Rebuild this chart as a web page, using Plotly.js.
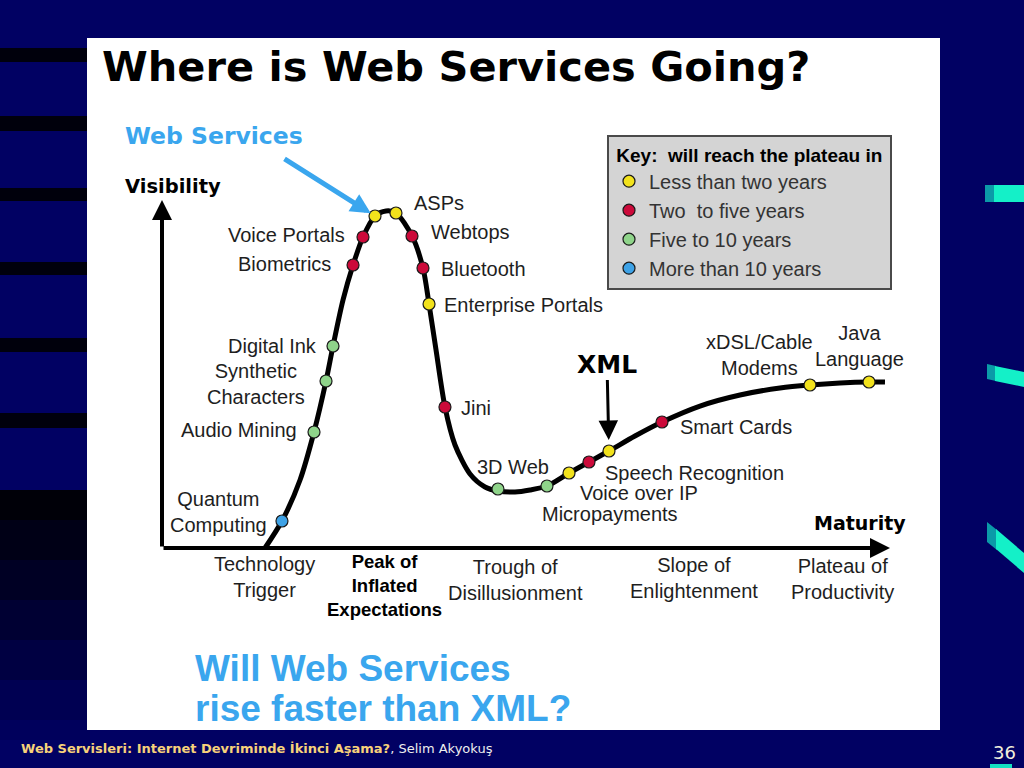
<!DOCTYPE html>
<html>
<head>
<meta charset="utf-8">
<script src="https://cdn.plot.ly/plotly-3.0.1.min.js"></script>
<style>
  html, body { margin: 0; padding: 0; background: #010163; }
  #chart { width: 1024px; height: 768px; }
</style>
</head>
<body>
<div id="chart"></div>
<script>
// ---------------- DATA ----------------
const categories = ['Less than two years', 'Two  to five years', 'Five to 10 years', 'More than 10 years'];
const categoryColors = ['#f2e21c', '#cc0a3a', '#8fd48a', '#3ea2e6'];

const techNames = ['Quantum<br>Computing', 'Audio Mining', 'Synthetic<br>Characters', 'Digital Ink', 'Biometrics',
  'Voice Portals', 'Web Services', 'ASPs', 'Webtops', 'Bluetooth', 'Enterprise Portals', 'Jini', '3D Web',
  'Micropayments', 'Voice over IP', 'Speech Recognition', 'XML', 'Smart Cards', 'xDSL/Cable<br>Modems', 'Java<br>Language'];
const techMaturity = [16.48, 20.88, 22.53, 23.49, 26.24, 27.61, 29.26, 32.14, 34.34, 35.85, 36.68, 38.87, 46.15,
  52.88, 55.91, 58.65, 61.40, 68.68, 89.01, 97.12];
const techVisibility = [7.76, 33.33, 47.99, 58.05, 81.32, 89.37, 95.40, 96.26, 89.66, 80.46, 70.11, 40.52, 16.95,
  17.82, 21.55, 24.71, 27.87, 36.21, 46.84, 47.70];
const techCategory = [3, 2, 2, 2, 1, 1, 0, 0, 1, 1, 0, 1, 2, 2, 0, 1, 0, 1, 0, 0];

const curveMaturity = [14.15, 16.48, 18.96, 20.88, 22.53, 23.49, 24.86, 26.24, 27.61, 29.26, 30.77, 32.14, 34.34,
  35.85, 36.68, 37.64, 38.87, 40.25, 42.31, 44.37, 46.15, 48.49, 50.55, 52.88, 55.91, 58.65, 61.40, 64.97, 68.68,
  73.90, 79.40, 84.89, 89.01, 93.13, 97.12, 99.31];
const curveVisibility = [0, 7.76, 19.54, 33.33, 47.99, 58.05, 71.26, 81.32, 89.37, 95.40, 96.84, 96.26, 89.66,
  80.46, 70.11, 56.90, 40.52, 29.60, 21.26, 17.53, 16.38, 16.09, 16.67, 17.82, 21.55, 24.71, 27.87, 32.18, 36.21,
  40.80, 43.97, 45.98, 46.84, 47.41, 47.70, 47.70];

const phaseLabels = ['Technology<br>Trigger', '<b>Peak of<br>Inflated<br>Expectations</b>', 'Trough of<br>Disillusionment',
  'Slope of<br>Enlightenment', 'Plateau of<br>Productivity'];

// ---------------- LAYOUT HELPERS ----------------
const W = 1024, H = 768;
const PX = (x) => x / W;
const PY = (y) => 1 - y / H;
const axisPx = { left: 162, right: 890, bottom: 548, top: 200 };
const xPerPx = 100 / (axisPx.right - axisPx.left);
const yPerPx = 100 / (axisPx.bottom - axisPx.top);
const NAVY = '#010163';
const BLUE = '#3aa6ee';
const TXT = '#1e1e1e';
const FONT = 'Liberation Sans, Arial, sans-serif';
const VFONT = 'DejaVu Sans, Verdana, sans-serif';

function rectPx(x0, y0, x1, y1, color) {
  return { type: 'rect', xref: 'paper', yref: 'paper', x0: PX(x0), x1: PX(x1), y0: PY(y1), y1: PY(y0),
    fillcolor: color, line: { width: 0 }, layer: 'below' };
}
function pathPx(pts, color) {
  const d = pts.map((p, i) => (i ? 'L' : 'M') + PX(p[0]).toFixed(5) + ',' + PY(p[1]).toFixed(5)).join(' ') + ' Z';
  return { type: 'path', xref: 'paper', yref: 'paper', path: d, fillcolor: color, line: { width: 0 }, layer: 'below' };
}

// label offsets (screen px from marker: dx right, dy down) and anchor
const labelPlacement = {
  'Quantum<br>Computing': [-63, -9, 'center'],
  'Audio Mining': [-15, -2, 'right'],
  'Synthetic<br>Characters': [-70, 3, 'center'],
  'Digital Ink': [-14, 0, 'right'],
  'Biometrics': [-20, -1, 'right'],
  'Voice Portals': [-16, -2, 'right'],
  'ASPs': [16, -10, 'left'],
  'Webtops': [17, -4, 'left'],
  'Bluetooth': [16, 1, 'left'],
  'Enterprise Portals': [13, 1, 'left'],
  'Jini': [14, 1, 'left'],
  '3D Web': [-23, -22, 'left'],
  'Micropayments': [-7, 28, 'left'],
  'Voice over IP': [9, 20, 'left'],
  'Speech Recognition': [14, 11, 'left'],
  'Smart Cards': [16, 5, 'left'],
  'xDSL/Cable<br>Modems': [-50, -30, 'center'],
  'Java<br>Language': [-10, -36, 'center']
};

// ---------------- TRACES ----------------
const traces = [];
traces.push({
  type: 'scatter', mode: 'lines', x: curveMaturity, y: curveVisibility,
  line: { color: '#000', width: 5, shape: 'spline', smoothing: 0.8 },
  hoverinfo: 'skip', showlegend: false
});
categories.forEach((cat, ci) => {
  const xs = [], ys = [], ns = [];
  techCategory.forEach((c, i) => { if (c === ci) { xs.push(techMaturity[i]); ys.push(techVisibility[i]); ns.push(techNames[i]); } });
  traces.push({
    type: 'scatter', mode: 'markers', x: xs, y: ys, text: ns, name: cat.replace('  ', '&nbsp; '),
    marker: { color: categoryColors[ci], size: 12, line: { color: '#1a1a1a', width: 1.2 } },
    cliponaxis: false, hoverinfo: 'text'
  });
});

// ---------------- ANNOTATIONS ----------------
const annotations = [];
techNames.forEach((n, i) => {
  const p = labelPlacement[n];
  if (!p) return;
  annotations.push({
    x: techMaturity[i], y: techVisibility[i], xref: 'x', yref: 'y', text: n, showarrow: false,
    xanchor: p[2], yanchor: 'middle', xshift: p[0], yshift: -p[1], align: 'center',
    font: { family: FONT, size: 20, color: TXT }
  });
});
// XML with arrow
const xi = techNames.indexOf('XML');
annotations.push({
  x: techMaturity[xi], y: techVisibility[xi], xref: 'x', yref: 'y', text: '<b>XML</b>',
  showarrow: true, ax: -2, ay: -87, arrowhead: 2, arrowsize: 1.3, arrowwidth: 3, arrowcolor: '#000', standoff: 11,
  font: { family: VFONT, size: 25, color: '#000' }
});
// Web Services arrow + label
const wi = techNames.indexOf('Web Services');
annotations.push({
  x: techMaturity[wi], y: techVisibility[wi], xref: 'x', yref: 'y', text: '',
  showarrow: true, ax: -92, ay: -58, arrowhead: 2, arrowsize: 0.8, arrowwidth: 5, arrowcolor: BLUE, standoff: 5
});
annotations.push({ x: PX(123), y: PY(136), xref: 'paper', yref: 'paper', xanchor: 'left', yanchor: 'middle',
  text: '<b>Web Services</b>', showarrow: false, font: { family: VFONT, size: 23.5, color: BLUE } });
// axis arrows
annotations.push({ x: 100, y: 0, xref: 'x', yref: 'y', text: '', showarrow: true,
  ax: -(axisPx.right - axisPx.left), ay: 0, arrowhead: 2, arrowsize: 1, arrowwidth: 4, arrowcolor: '#000' });
annotations.push({ x: 0, y: 100, xref: 'x', yref: 'y', text: '', showarrow: true,
  ax: 0, ay: (axisPx.bottom - axisPx.top), arrowhead: 2, arrowsize: 1, arrowwidth: 4, arrowcolor: '#000' });
// axis titles
annotations.push({ x: PX(123), y: PY(186), xref: 'paper', yref: 'paper', xanchor: 'left', yanchor: 'middle',
  text: '<b>Visibility</b>', showarrow: false, font: { family: VFONT, size: 19.5, color: '#000' } });
annotations.push({ x: PX(812), y: PY(523), xref: 'paper', yref: 'paper', xanchor: 'left', yanchor: 'middle',
  text: '<b>Maturity</b>', showarrow: false, font: { family: VFONT, size: 19, color: '#000' } });
// phase labels
const phasePos = [[264, 577], [384, 585], [515, 580], [694, 578], [842, 579]];
phaseLabels.forEach((t, i) => {
  annotations.push({ x: PX(phasePos[i][0]), y: PY(phasePos[i][1]), xref: 'paper', yref: 'paper',
    xanchor: 'center', yanchor: 'middle', text: t, showarrow: false, align: 'center',
    font: { family: FONT, size: i === 1 ? 18.5 : 20, color: i === 1 ? '#000' : TXT } });
});
// title
annotations.push({ x: PX(456), y: PY(66), xref: 'paper', yref: 'paper', xanchor: 'center', yanchor: 'middle',
  text: '<b>Where is Web Services Going?</b>', showarrow: false, font: { family: VFONT, size: 41.5, color: '#000' } });
// question
annotations.push({ x: PX(193), y: PY(668), xref: 'paper', yref: 'paper', xanchor: 'left', yanchor: 'middle',
  text: '<b>Will Web Services</b>', showarrow: false, font: { family: FONT, size: 37, color: BLUE } });
annotations.push({ x: PX(193), y: PY(708), xref: 'paper', yref: 'paper', xanchor: 'left', yanchor: 'middle',
  text: '<b>rise faster than XML?</b>', showarrow: false, font: { family: FONT, size: 37, color: BLUE } });
// footer
annotations.push({ x: PX(19), y: PY(748), xref: 'paper', yref: 'paper', xanchor: 'left', yanchor: 'middle',
  text: '<span style="color:#f7d27a"><b>Web Servisleri: Internet Devriminde İkinci Aşama?</b></span>, Selim Akyokuş',
  showarrow: false, font: { family: VFONT, size: 13, color: '#eeeeee' } });
annotations.push({ x: PX(1004), y: PY(752), xref: 'paper', yref: 'paper', xanchor: 'center', yanchor: 'middle',
  text: '36', showarrow: false, font: { family: VFONT, size: 18, color: '#f2f0dc' } });

// ---------------- SHAPES (slide decoration) ----------------
const shapes = [];
[[48, 62], [116, 131], [188, 201], [262, 275], [338, 352], [413, 428]].forEach(b => shapes.push(rectPx(0, b[0], 90, b[1], '#00000c')));
[[490, 520, '#000008'], [520, 560, '#000016'], [560, 600, '#000024'], [600, 640, '#000033'], [640, 680, '#000042'], [680, 720, '#000052'], [720, 740, '#00005c']]
  .forEach(b => shapes.push(rectPx(0, b[0], 90, b[1], b[2])));
shapes.push(rectPx(87, 38, 940, 730, '#ffffff'));
// teal accents on the right
shapes.push(rectPx(985, 185, 995, 202, '#0b9aa8'));
shapes.push(rectPx(994, 185, 1024, 202, '#14f0c8'));
shapes.push(pathPx([[987, 364], [996, 366], [996, 381], [987, 379]], '#0b9aa8'));
shapes.push(pathPx([[995, 366], [1024, 372], [1024, 387], [995, 381]], '#14f0c8'));
shapes.push(pathPx([[987, 522], [997, 530], [997, 550], [987, 542]], '#0b9aa8'));
shapes.push(pathPx([[996, 529], [1024, 553], [1024, 573], [996, 549]], '#14f0c8'));
shapes.push(rectPx(990, 764, 1012, 768, '#14e0c0'));

// ---------------- LAYOUT ----------------
const layout = {
  width: W, height: H,
  margin: { l: 0, r: 0, t: 0, b: 0, pad: 0 },
  paper_bgcolor: NAVY, plot_bgcolor: 'rgba(0,0,0,0)',
  font: { family: FONT, color: TXT },
  xaxis: { domain: [0, 1], range: [-axisPx.left * xPerPx, (W - axisPx.left) * xPerPx], visible: false, fixedrange: true },
  yaxis: { domain: [0, 1], range: [-(H - axisPx.bottom) * yPerPx, axisPx.bottom * yPerPx], visible: false, fixedrange: true },
  showlegend: true,
  legend: {
    x: PX(607), y: PY(135), xanchor: 'left', yanchor: 'top',
    bgcolor: '#d4d4d4', bordercolor: '#4a4a4a', borderwidth: 2,
    font: { family: FONT, size: 20, color: '#333' },
    title: { text: '<b>&nbsp;Key:&nbsp; will reach the plateau in&nbsp;</b>', font: { family: FONT, size: 19, color: '#000' } },
    traceorder: 'normal', tracegroupgap: 0, itemclick: false, itemdoubleclick: false
  },
  shapes: shapes,
  annotations: annotations
};

Plotly.newPlot('chart', traces, layout, { displayModeBar: false, staticPlot: true });
</script>
</body>
</html>
